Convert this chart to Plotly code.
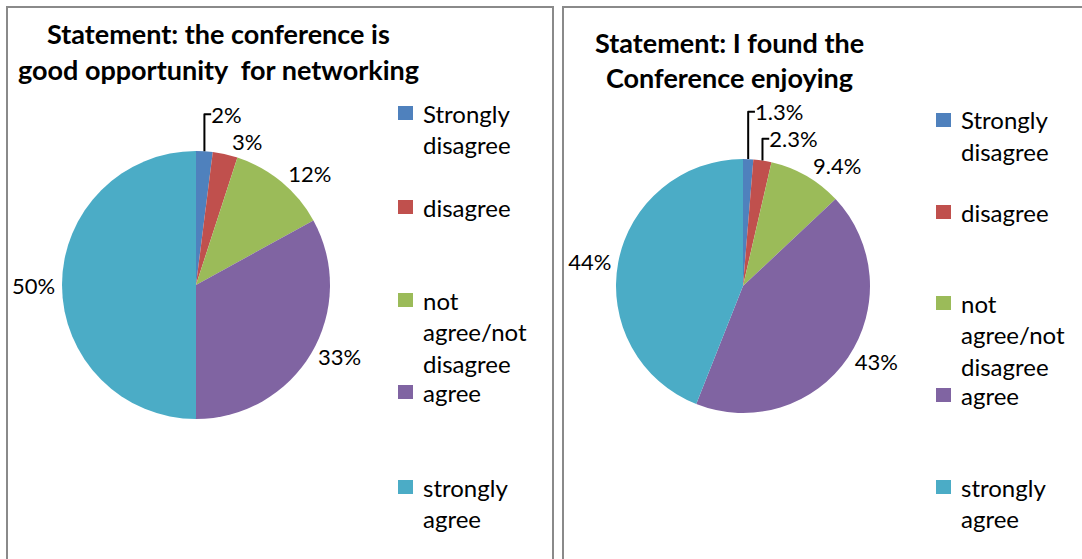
import plotly.graph_objects as go

W, H = 1082, 559

categories = ["Strongly disagree", "disagree", "not agree/not disagree", "agree", "strongly agree"]
legend_lines = [["Strongly", "disagree"], ["disagree"], ["not", "agree/not", "disagree"], ["agree"], ["strongly", "agree"]]
colors = ["#4F81BD", "#C0504D", "#9BBB59", "#8064A2", "#4BACC6"]

networking_values = [2, 3, 12, 33, 50]
enjoying_values = [1.3, 2.3, 9.4, 43, 44]

title_left = ["Statement: the conference is", "good opportunity  for networking"]
title_right = ["Statement: I found the", "Conference enjoying"]

FONT = "Lato"


def px(x):
    return x / W


def py(y):
    return 1 - y / H


fig = go.Figure()

fig.add_trace(go.Pie(
    labels=categories, values=networking_values,
    text=[f"{v:g}%" for v in networking_values], textinfo="text",
    textposition="outside", sort=False, direction="clockwise", rotation=0,
    marker=dict(colors=colors, line=dict(width=0)),
    domain=dict(x=[px(62), px(330)], y=[py(419), py(151)]),
    outsidetextfont=dict(family=FONT, size=22, color="#000"),
    showlegend=False, hoverinfo="label+value",
))
fig.add_trace(go.Pie(
    labels=categories, values=enjoying_values,
    text=[f"{v:g}%" for v in enjoying_values], textinfo="text",
    textposition="outside", sort=False, direction="clockwise", rotation=0,
    marker=dict(colors=colors, line=dict(width=0)),
    domain=dict(x=[px(616), px(870)], y=[py(413), py(159)]),
    outsidetextfont=dict(family=FONT, size=22, color="#000"),
    showlegend=False, hoverinfo="label+value",
))

annotations = []
shapes = []

# panel borders
shapes.append(dict(type="rect", xref="paper", yref="paper", x0=px(7), x1=px(553), y0=-0.05, y1=py(7),
                   line=dict(color="#8a8a8a", width=2), fillcolor="rgba(0,0,0,0)"))
shapes.append(dict(type="rect", xref="paper", yref="paper", x0=px(563), x1=1.05, y0=-0.05, y1=py(7),
                   line=dict(color="#8a8a8a", width=2), fillcolor="rgba(0,0,0,0)"))

# titles
for i, line in enumerate(title_left):
    annotations.append(dict(x=px(218), y=py(33 + 36 * i), xref="paper", yref="paper", text=f"<b>{line}</b>",
                            showarrow=False, xanchor="center", yanchor="middle",
                            font=dict(family=FONT, size=27, color="#000")))
for i, line in enumerate(title_right):
    annotations.append(dict(x=px(729), y=py(42 + 35 * i), xref="paper", yref="paper", text=f"<b>{line}</b>",
                            showarrow=False, xanchor="center", yanchor="middle",
                            font=dict(family=FONT, size=27, color="#000")))

# legends
left_item_y = [113, 207, 300, 392, 487]
right_item_y = [120, 212, 303, 395, 487]
for mx, tx, ys in [(398, 421, left_item_y), (936, 959, right_item_y)]:
    for lines, col, y0 in zip(legend_lines, colors, ys):
        shapes.append(dict(type="rect", xref="paper", yref="paper", x0=px(mx), x1=px(mx + 15),
                           y0=py(y0 + 7), y1=py(y0 - 7), fillcolor=col, line=dict(width=0)))
        for j, ln in enumerate(lines):
            annotations.append(dict(x=px(tx), y=py(y0 + 31.5 * j), xref="paper", yref="paper", text=ln,
                                    showarrow=False, xanchor="left", yanchor="middle",
                                    font=dict(family=FONT, size=24, color="#000")))

fig.update_layout(
    width=W, height=H, margin=dict(l=0, r=0, t=0, b=0),
    paper_bgcolor="white", plot_bgcolor="white",
    annotations=annotations, shapes=shapes,
    font=dict(family=FONT),
)

fig.write_html("out.html", config={"displayModeBar": False},
               post_script="document.body.style.margin='0px';")
